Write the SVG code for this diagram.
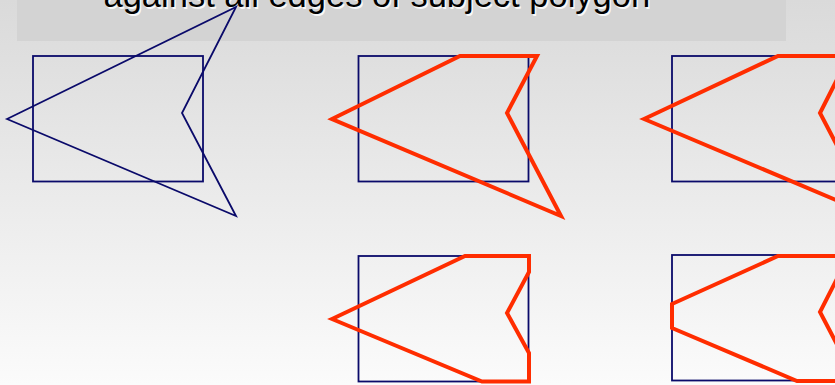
<svg xmlns="http://www.w3.org/2000/svg" width="835" height="385" viewBox="0 0 835 385">
  <defs>
    <linearGradient id="bg" x1="0" y1="0" x2="0" y2="1">
      <stop offset="0" stop-color="#dadada"/>
      <stop offset="1" stop-color="#fbfbfb"/>
    </linearGradient>
    <style>
      .clip { fill: none; stroke: #0a0a6a; stroke-width: 1.8; }
      .subj { fill: none; stroke: #0a0a6a; stroke-width: 1.8; stroke-linejoin: miter; }
      .res { fill: none; stroke: #ff2d00; stroke-width: 4; stroke-linejoin: miter; stroke-miterlimit: 4; }
      .title { font-family: "Liberation Sans", Arial, sans-serif; font-size: 34.5px; }
    </style>
  </defs>
  <rect x="0" y="0" width="835" height="385" fill="url(#bg)"/>
  <g id="banner">
    <rect x="17" y="0" width="769" height="41" fill="#d3d3d3"/>
    <text class="title" x="105" y="8.5" fill="#ffffff" fill-opacity="0.85">against all edges of subject polygon</text>
    <text class="title" x="103.5" y="7" fill="#000000">against all edges of subject polygon</text>
  </g>
  <g id="panel-original">
    <rect class="clip" x="33" y="56" width="170" height="125.5"/>
    <polygon class="subj" points="7,119 236,7 182,113 236,216"/>
  </g>
  <g id="panel-top-clip">
    <rect class="clip" x="358.5" y="56" width="170" height="125.5"/>
    <polygon class="res" points="332,119 460,56 537,56 507,113 561,216"/>
  </g>
  <g id="panel-top-right-clip">
    <rect class="clip" x="672" y="56" width="170" height="125.5"/>
    <polygon class="res" points="644,119 778,56 849,56 820,113 874,216"/>
  </g>
  <g id="panel-bottom-clip">
    <rect class="clip" x="358.5" y="256" width="170" height="125.5"/>
    <polygon class="res" points="332,319 465,256 529,256 529,272 507,313 529,353 529,381.5 482,381.5"/>
  </g>
  <g id="panel-left-clip">
    <rect class="clip" x="672" y="255" width="170" height="125.5"/>
    <polygon class="res" points="672,304 778,256 842,256 842,269 820,312 842,354 842,381 797,381 672,328"/>
  </g>
</svg>
